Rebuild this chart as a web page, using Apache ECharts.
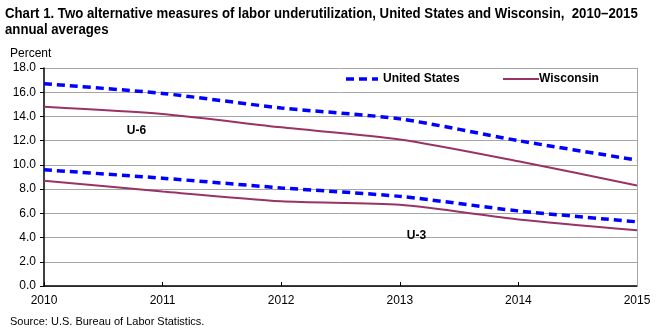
<!DOCTYPE html>
<html>
<head>
<meta charset="utf-8">
<script src="https://cdn.jsdelivr.net/npm/echarts@6/dist/echarts.min.js"></script>
<style>
  html, body { margin: 0; padding: 0; background: #fff; }
  #chart { width: 661px; height: 329px; }
</style>
</head>
<body>
<div id="chart"></div>
<script>
// Annual averages, percent
const years = [2010, 2011, 2012, 2013, 2014, 2015];
const usU6 = [16.7, 15.9, 14.7, 13.8, 12.0, 10.4];
const wiU6 = [14.8, 14.2, 13.1, 12.1, 10.3, 8.3];
const usU3 = [9.6, 8.9, 8.1, 7.4, 6.2, 5.3];
const wiU3 = [8.7, 7.8, 7.0, 6.7, 5.5, 4.6];

const US_COLOR = '#0000FF';
const WI_COLOR = '#993366';
const FONT = 'Liberation Sans, Arial, sans-serif';

const pairs = vals => vals.map((v, i) => [years[i], v]);

const chart = echarts.init(document.getElementById('chart'), null, { renderer: 'canvas' });

const usStyle = { color: US_COLOR, width: 3.5, type: [8, 5] };
const wiStyle = { color: WI_COLOR, width: 2 };

const seriesLabel = (text, coord) => ({
  symbol: 'circle', symbolSize: 0, silent: true,
  label: { show: true, position: 'inside', formatter: text, color: '#000', fontWeight: 'bold', fontSize: 12, fontFamily: FONT },
  data: [{ coord }]
});

chart.setOption({
  animation: false,
  backgroundColor: '#fff',
  textStyle: { fontFamily: FONT },
  title: [
    {
      text: 'Percent', left: 5, top: 43,
      textStyle: { fontFamily: FONT, fontWeight: 'normal', fontSize: 12, color: '#000' }
    },
    {
      text: 'Source: U.S. Bureau of Labor Statistics.', left: 5, top: 311,
      textStyle: { fontFamily: FONT, fontWeight: 'normal', fontSize: 11, color: '#000' }
    }
  ],
  grid: { left: 44, right: 24, top: 68, bottom: 43, containLabel: false, show: false },
  xAxis: {
    type: 'value', min: 2010, max: 2015, interval: 1,
    axisLine: { lineStyle: { color: '#000', width: 1.5 } },
    axisTick: { inside: true, length: 4, lineStyle: { color: '#000' } },
    axisLabel: { color: '#000', fontSize: 12, margin: 9, fontFamily: FONT, formatter: v => String(v) },
    splitLine: { show: false }
  },
  yAxis: {
    type: 'value', min: 0, max: 18, interval: 2,
    axisLine: { show: true, lineStyle: { color: '#000', width: 1.5 } },
    axisTick: { show: true, length: 4, lineStyle: { color: '#000' } },
    axisLabel: { color: '#000', fontSize: 12, margin: 8, fontFamily: FONT, formatter: v => v.toFixed(1) },
    splitLine: { lineStyle: { color: '#a6a6a6', width: 1 } }
  },
  series: [
    { name: 'United States', type: 'line', data: pairs(usU6), smooth: 0.25, symbol: 'none', lineStyle: usStyle, itemStyle: { color: US_COLOR }, z: 3,
      markLine: {
        silent: true, symbol: 'none', label: { show: false },
        data: [{ xAxis: 2015 }],
        lineStyle: { color: '#a6a6a6', width: 1, type: 'solid' }
      },
      markPoint: seriesLabel('U-6', [2010.78, 12.8])
    },
    { name: 'Wisconsin', type: 'line', data: pairs(wiU6), smooth: 0.25, symbol: 'none', lineStyle: wiStyle, itemStyle: { color: WI_COLOR }, z: 2 },
    { name: 'United States', type: 'line', data: pairs(usU3), smooth: 0.25, symbol: 'none', lineStyle: usStyle, itemStyle: { color: US_COLOR }, z: 3,
      markPoint: seriesLabel('U-3', [2013.14, 4.15])
    },
    { name: 'Wisconsin', type: 'line', data: pairs(wiU3), smooth: 0.25, symbol: 'none', lineStyle: wiStyle, itemStyle: { color: WI_COLOR }, z: 2 }
  ],
  graphic: [
    // condensed two-line heading
    {
      type: 'text', left: 5, top: 6, scaleX: 0.943, z: 10,
      style: {
        text: 'Chart 1. Two alternative measures of labor underutilization, United States and Wisconsin,  2010–2015\nannual averages',
        font: 'bold 14px ' + FONT, fill: '#000', lineHeight: 16
      }
    },
    // legend
    { type: 'line', shape: { x1: 346, y1: 79, x2: 378, y2: 79 }, style: { stroke: US_COLOR, lineWidth: 3.5, lineDash: [8, 5] }, z: 10 },
    { type: 'text', x: 383, y: 79, style: { text: 'United States', font: 'bold 12px ' + FONT, fill: '#000', textVerticalAlign: 'middle' }, z: 10 },
    { type: 'line', shape: { x1: 503, y1: 79, x2: 539, y2: 79 }, style: { stroke: WI_COLOR, lineWidth: 2 }, z: 10 },
    { type: 'text', x: 539, y: 79, style: { text: 'Wisconsin', font: 'bold 12px ' + FONT, fill: '#000', textVerticalAlign: 'middle' }, z: 10 }
  ]
});
</script>
</body>
</html>
